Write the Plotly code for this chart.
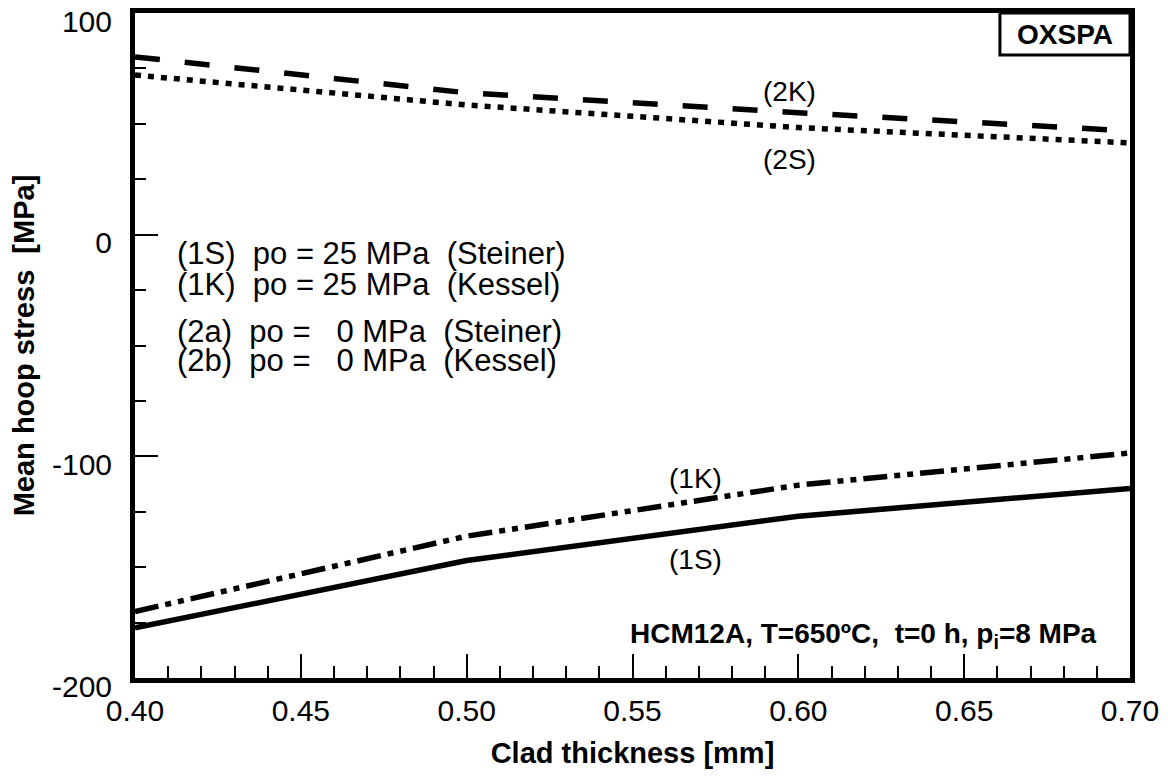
import plotly.graph_objects as go

thickness = [0.40, 0.50, 0.60, 0.70]
stress_1s = [-177.4, -147, -127, -114.5]
stress_1k = [-170, -136, -113, -98.5]
stress_2k = [80.2, 64, 55, 46.8]
stress_2s = [72, 58.5, 48.3, 41.4]

x_ticks = [0.40, 0.45, 0.50, 0.55, 0.60, 0.65, 0.70]
y_ticks = [-200, -100, 0, 100]
y_tick_text = ["-200", "-100", "0", "100"]

FONT = "Arial, Liberation Sans, sans-serif"

fig = go.Figure()
series = [
    (stress_1s, "solid"),
    (stress_1k, "24px,7px,6px,7px,6px,7px"),
    (stress_2k, "25px,25px"),
    (stress_2s, "6px,7px"),
]
for ys, dash in series:
    fig.add_trace(go.Scatter(x=thickness, y=ys, mode="lines",
                             line=dict(color="black", width=5.5, dash=dash),
                             hoverinfo="skip", showlegend=False))

# curve labels
for x, y, txt in ((0.5972, 64.8, "(2K)"), (0.5972, 34.1, "(2S)"),
                  (0.5691, -110, "(1K)"), (0.5691, -146.5, "(1S)")):
    fig.add_annotation(x=x, y=y, text=txt, showarrow=False,
                       xanchor="center", yanchor="middle",
                       font=dict(family=FONT, size=28, color="black"))

# key text
nb = "\u00a0"
key = [
    (-8.4, f"(1S){nb}{nb}po = 25 MPa{nb}{nb}(Steiner)"),
    (-22.4, f"(1K){nb}{nb}po = 25 MPa{nb}{nb}(Kessel)"),
    (-43.6, f"(2a){nb}{nb}po ={nb}{nb}{nb}0 MPa{nb}{nb}(Steiner)"),
    (-56.7, f"(2b){nb}{nb}po ={nb}{nb}{nb}0 MPa{nb}{nb}(Kessel)"),
]
for y, txt in key:
    fig.add_annotation(x=0.4121, y=y, text=txt, showarrow=False,
                       xanchor="left", yanchor="middle",
                       font=dict(family=FONT, size=31, color="black"))

fig.add_annotation(x=0.6907, y=-181, xanchor="right", yanchor="middle",
                   showarrow=False,
                   text="<b>HCM12A, T=650ºC,  t=0 h, p<sub>i</sub>=8 MPa</b>",
                   font=dict(family=FONT, size=28, color="black"))

# OXSPA box
fig.add_shape(type="rect", xref="x domain", yref="y domain",
              x0=0.8693, x1=1.0, y0=0.937, y1=1.0,
              line=dict(color="black", width=3), fillcolor="white")
fig.add_annotation(xref="x domain", yref="y domain", x=0.9347, y=0.968,
                   xanchor="center", yanchor="middle",
                   text="<b>OXSPA</b>", showarrow=False,
                   font=dict(family=FONT, size=28, color="black"))

fig.update_xaxes(range=[0.40, 0.70], tickvals=x_ticks,
                 ticktext=[f"{v:.2f}" for v in x_ticks],
                 ticks="inside", ticklen=24, tickwidth=2, tickcolor="black",
                 minor=dict(dtick=0.01, ticks="inside", ticklen=12,
                            tickwidth=2, tickcolor="black"),
                 showline=True, mirror=True, linewidth=5, linecolor="black",
                 showgrid=False, zeroline=False, ticklabelstandoff=2,
                 automargin=False, ticklabeloverflow="allow",
                 tickfont=dict(family=FONT, size=30, color="black"),
                 title=dict(text="<b>Clad thickness [mm]</b>", standoff=18,
                            font=dict(family=FONT, size=29, color="black")))
fig.update_yaxes(range=[-200, 100], tickvals=y_ticks, ticktext=y_tick_text,
                 ticks="inside", ticklen=23, tickwidth=2, tickcolor="black",
                 minor=dict(dtick=25, ticks="inside", ticklen=11,
                            tickwidth=2, tickcolor="black"),
                 showline=True, mirror=True, linewidth=5, linecolor="black",
                 showgrid=False, zeroline=False, ticklabelstandoff=12,
                 ticklabelshift=8,
                 automargin=False, ticklabeloverflow="allow",
                 tickfont=dict(family=FONT, size=30, color="black"),
                 title=dict(text="<b>Mean hoop stress  [MPa]</b>", standoff=20,
                            font=dict(family=FONT, size=29, color="black")))
# page body adds an 8px offset, so the figure is 16px smaller than the window
fig.update_layout(width=1152, height=762,
                  margin=dict(l=127, r=30, t=5, b=92),
                  plot_bgcolor="white", paper_bgcolor="white",
                  showlegend=False)
fig.write_html("out.html")
